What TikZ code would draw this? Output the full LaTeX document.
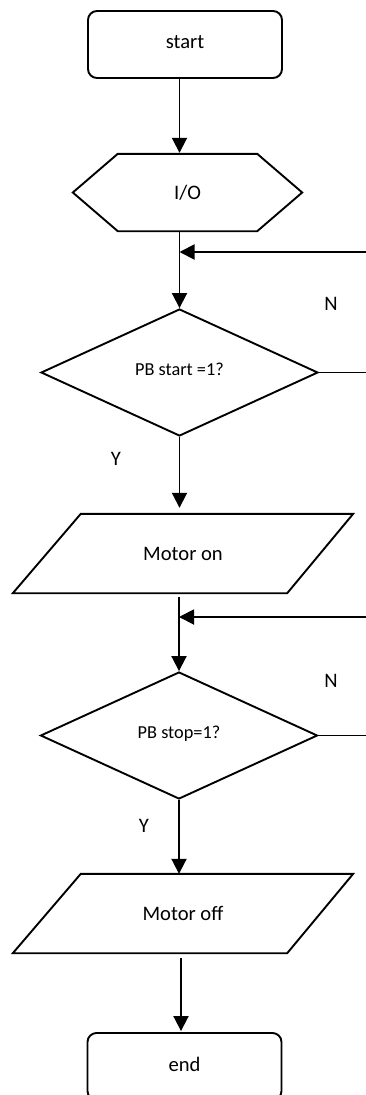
\documentclass[tikz,border=0pt]{standalone}
\usepackage{fontspec}
\setmainfont{Carlito}
\usetikzlibrary{arrows.meta,shapes.geometric,calc}

\tikzset{
  every picture/.style={x=1pt,y=-1pt},
  flowline/.style={line width=1.9pt,black},
  arr/.style={flowline,-{Triangle[length=15pt,width=15pt]}},
  term/.style={draw,line width=1.9pt,rounded corners=9pt,minimum width=194pt,minimum height=67pt,inner sep=0pt,font=\fontsize{20.6}{24}\selectfont},
  hexframe/.style={inner sep=0pt,minimum width=229pt,minimum height=77pt,font=\fontsize{20.6}{24}\selectfont},
  ioframe/.style={inner sep=0pt,minimum width=340pt,minimum height=79pt,font=\fontsize{20.6}{24}\selectfont},
  decision/.style={draw,line width=1.9pt,diamond,inner sep=0pt,minimum width=277pt,minimum height=127pt,font=\fontsize{18.3}{22}\selectfont},
  lbl/.style={inner sep=0pt,font=\fontsize{20.6}{24}\selectfont},
}

\begin{document}
\begin{tikzpicture}
\useasboundingbox (0,0) rectangle (366,1095);
\clip (0,0) rectangle (366,1095);

% terminals
\node[term] (start) at (185,44.5) {\raisebox{5.5pt}{start}};
\node[term] (end) at (184.5,1066.5) {\raisebox{4.5pt}{end}};

% preparation hexagon
\node[hexframe] (io) at (187.5,192.5) {I/O};
\draw[flowline,line join=miter] (io.west) -- ($(io.north west)+(45,0)$) -- ($(io.north east)+(-45,0)$)
  -- (io.east) -- ($(io.south east)+(-45,0)$) -- ($(io.south west)+(45,0)$) -- cycle;

% decisions
\node[decision] (d1) at (179.5,372.5) {\raisebox{7pt}{PB start =1?}};
\node[decision] (d2) at (179,735.5) {\raisebox{7.5pt}{PB stop=1?}};

% input/output parallelograms
\node[ioframe] (mon) at (183,553.5) {Motor on};
\draw[flowline,line join=miter] (mon.south west) -- ($(mon.north west)+(68,0)$) -- (mon.north east)
  -- ($(mon.south east)+(-66,0)$) -- cycle;
\node[ioframe] (moff) at (183,913.5) {Motor off};
\draw[flowline,line join=miter] (moff.south west) -- ($(moff.north west)+(68,0)$) -- (moff.north east)
  -- ($(moff.south east)+(-66,0)$) -- cycle;

% loop-back entry points at the right edge
\coordinate (r1) at (366,252);
\coordinate (r2) at (366,617);
% axis of the last connector
\coordinate (ax) at (181,0);

% main flow
\draw[arr] (start.south -| d1.north) -- ($(io.north -| d1.north)+(0,-1)$);
\draw[arr] (io.south -| d1.north) -- (d1.north);
\draw[arr,shorten >=6pt] (d1.south) -- (mon.north -| d1.south);
\draw[arr,shorten <=4pt] (mon.south -| d2.north) -- (d2.north);
\draw[arr] (d2.south) -- (moff.north -| d2.south);
\draw[arr,shorten <=5pt,shorten >=1pt] (moff.south -| ax) -- (end.north -| ax);

% "no" branches returning to the main flow
\draw[arr] (r1) -- (r1 -| d1.north);
\draw[flowline] (d1.east) -- (d1.east -| r1);
\draw[arr] (r2) -- (r2 -| d2.north);
\draw[flowline] (d2.east) -- (d2.east -| r2);

% branch labels
\node[lbl] (n1) at (331,304) {N};
\node[lbl] (y1) at (116,459) {Y};
\node[lbl] (n2) at (331,681) {N};
\node[lbl] (y2) at (144,826) {Y};
\end{tikzpicture}
\end{document}
